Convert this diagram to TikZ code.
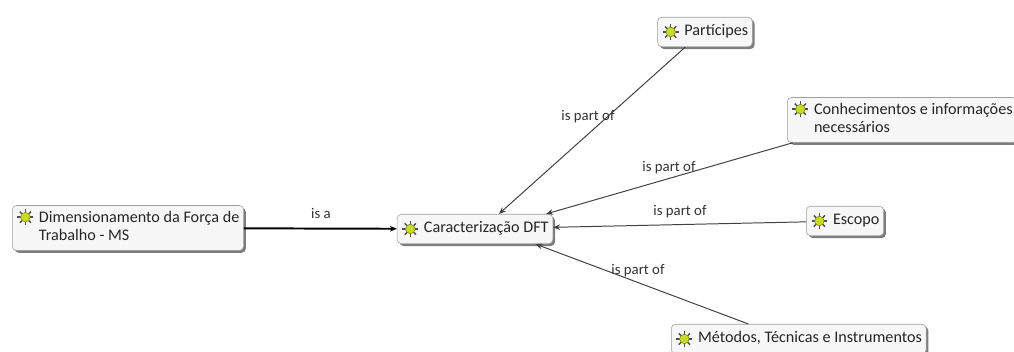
\documentclass[tikz,border=0pt]{standalone}
\usepackage{fontspec}
\setmainfont{Carlito}
\usetikzlibrary{arrows.meta,shadows,backgrounds}
\definecolor{bulbgreen}{RGB}{200,218,40}
\definecolor{bulbrim}{RGB}{120,130,30}
\newcommand{\linecolor}{black!75}
\newcommand{\iconsep}{16pt}
\newcommand{\ctxt}[1]{\hspace*{\iconsep}\begin{tabular}{@{}l@{}}#1\end{tabular}}

\begin{document}
\begin{tikzpicture}[x=0.025cm,y=-0.025cm,
  concept/.style={draw=gray!75, rounded corners=3pt, fill=gray!6,
    font=\fontsize{11.5}{13}\selectfont, text=black!85, inner xsep=3pt, inner ysep=3pt,
    minimum height=21pt,
    drop shadow={shadow xshift=1.6pt, shadow yshift=-1.6pt, fill=black!60, opacity=0.85}},
  link/.style={draw=\linecolor, line width=0.7pt, -{Stealth[length=5pt,width=4pt]}},
  lbl/.style={font=\fontsize{10.5}{12}\selectfont, text=black!80, inner sep=1pt},
  bulb/.pic={
    \foreach \a in {0,45,...,315}
      \draw[gray!60!black, line width=1pt] (0,0) -- (\a:5.6pt);
    \fill[bulbgreen, draw=bulbrim, line width=0.4pt] (0,0) circle (3.4pt);
  }]
\useasboundingbox (0,0) rectangle (1014,351);
% concepts
\node[concept, anchor=west] (dim) at (12,228) {\ctxt{Dimensionamento da Força de\\Trabalho - MS}};
\node[concept] (car) at (475,229) {\ctxt{Caracterização DFT}};
\node[concept] (par) at (705,32) {\ctxt{Partícipes}};
\node[concept, anchor=west] (con) at (787,120) {\ctxt{Conhecimentos e informações\\necessários}};
\node[concept] (esc) at (845,221) {\ctxt{Escopo}};
\node[concept, anchor=west] (met) at (671,339) {\ctxt{Métodos, Técnicas e Instrumentos}};
% icons
\foreach \c in {car,par,esc,met}
  \pic at ([xshift=9.5pt]\c.west) {bulb};
\foreach \c in {dim,con}
  \pic at ([shift={(9.5pt,-8.5pt)}]\c.north west) {bulb};
% links
\draw[link, draw=black, line width=1.4pt] (dim) -- (car);
\draw[link] ([xshift=-14pt]par.south) -- ([xshift=17pt]car.north);
\draw[link] ([xshift=4pt]con.south west) -- ([xshift=-5pt]car.north east);
\draw[link] (esc) -- (car);
\draw[link] ([xshift=55pt]met.north west) -- ([xshift=43pt]car.south);
% link labels
\node[lbl] (isa) at (321,213) {is a};
\node[lbl] (ipar) at (588,117) {is part of};
\node[lbl] (icon) at (669,168) {is part of};
\node[lbl] (iesc) at (680,212) {is part of};
\node[lbl] (imet) at (638,271) {is part of};
\end{tikzpicture}
\end{document}
